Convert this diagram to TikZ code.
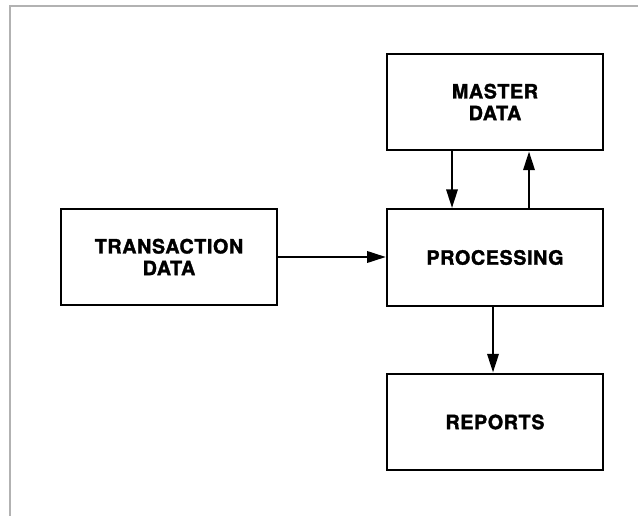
\documentclass[tikz,border=0pt]{standalone}
\usepackage{fontspec}
\newfontfamily\labelfont{TeX Gyre Heros}[LetterSpace=3, FakeBold=1.6]
\usetikzlibrary{arrows.meta}
\begin{document}
\begin{tikzpicture}[x=0.75pt, y=-0.75pt,
  block/.style={draw, line width=1.7pt, minimum width=162pt, minimum height=72.5pt,
    align=center, inner sep=0pt,
    font=\labelfont\bfseries\fontsize{14.8}{16.3}\selectfont},
  flow/.style={line width=1.7pt, -{Triangle[length=14pt, width=8.5pt]}},
  frameline/.style={gray!60, line width=0.8pt}]
  \useasboundingbox (0,0) rectangle (638,516);

  % page frame (top and left edges)
  \coordinate (fl) at (10,516);
  \coordinate (fc) at (10,6);
  \coordinate (fr) at (638,6);
  \draw[frameline] (fl) -- (fc) -- (fr);

  % blocks
  \node[block] (master) at (495,102) {MASTER\\DATA};
  \node[block] (proc)   at (495,257.5) {PROCESSING};
  \node[block] (trans)  at (169,257) {TRANSACTION\\DATA};
  \node[block] (rep)    at (495,422) {REPORTS};

  % data flows
  \draw[flow] (trans.east) -- (trans.east -| proc.west);
  \draw[flow] ([xshift=-32.25pt]master.south) -- ([xshift=-32.25pt]proc.north);
  \draw[flow] ([xshift=25.5pt]proc.north) -- ([xshift=25.5pt]master.south);
  \draw[flow] ([xshift=-1.5pt]proc.south) -- ([xshift=-1.5pt]rep.north);
\end{tikzpicture}
\end{document}
